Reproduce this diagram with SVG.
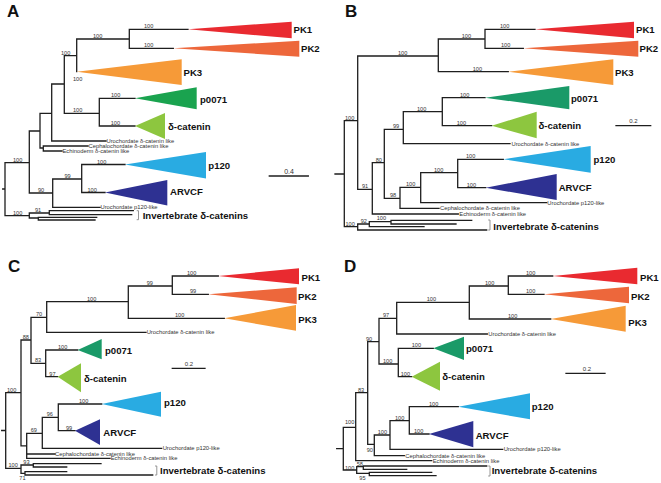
<svg xmlns="http://www.w3.org/2000/svg" width="661" height="483" viewBox="0 0 661 483">
<style>
.ln{fill:none;stroke:#1e1e1e;stroke-width:1.3;stroke-linecap:square}
.br{fill:none;stroke:#8a8a8a;stroke-width:0.9}
text{font-family:"Liberation Sans",Arial,sans-serif}
.pl{font-size:17px;font-weight:bold;fill:#111}
.cl{font-size:9.6px;font-weight:bold;fill:#111}
.nl{font-size:5.6px;fill:#333}
.tl{font-size:5.8px;fill:#333}
.sc{font-size:6px;fill:#333;text-anchor:middle}
.pk1{fill:#e92a30}.pk2{fill:#ed673b}.pk3{fill:#f69a38}
.p71a{fill:#1aa34f}.p71{fill:#1a9a68}.dc{fill:#8dc63f}.p120{fill:#29abe2}.arv{fill:#2e3192}
</style>

<!-- ================= PANEL A ================= -->
<g id="panelA">
<text class="pl" x="7" y="16.7">A</text>
<g id="A-connectors">
<path class="ln" d="M2.7 189H5M5 162.7V215.7M5 162.7H29.3M29.3 131V193M29.3 131H40M40 113.3V148M40 148H43.3M43.3 146V151M43.3 146H88M43.3 151H62M40 113.3H51.7M51.7 84V141M51.7 141H106M51.7 84H64.3M64.3 55.7V113.3M64.3 55.7H76.7M76.7 39V71.7M76.7 39H129.3M129.3 29.3V48.3M129.3 29.3H188M129.3 48.3H173.3M64.3 113.3H99.3M99.3 98.3V126M99.3 98.3H135M99.3 126H135M29.3 193H52.7M52.7 179V207.3M52.7 207.3H100M52.7 179H81.7M81.7 164.5V192.5M81.7 164.5H125M81.7 192.5H105M5 215.7H29.3M29.3 213V218M29.3 213H49.3M49.3 210.7V214.7M49.3 210.7H133.3M49.3 214.7H131.7M29.3 218H38.3M38.3 217.3V220M38.3 217.3H96.7M38.3 220H95"/>
<path class="br" d="M136.7 210.7H138.5V219.7H136.7"/>
</g>
<g id="A-support">
<text class="nl" x="13" y="161.7">100</text>
<text class="nl" x="144" y="28.3">100</text>
<text class="nl" x="144" y="47.3">100</text>
<text class="nl" x="93" y="38">100</text>
<text class="nl" x="61" y="54.7">100</text>
<text class="nl" x="73" y="81">100</text>
<text class="nl" x="73" y="112.3">100</text>
<text class="nl" x="111" y="97.3">100</text>
<text class="nl" x="110.7" y="125">100</text>
<text class="nl" x="38" y="192">90</text>
<text class="nl" x="64.5" y="178">99</text>
<text class="nl" x="97" y="163.5">100</text>
<text class="nl" x="87.5" y="191.5">100</text>
<text class="nl" x="13" y="214.7">100</text>
<text class="nl" x="35" y="212">91</text>
</g>
<g id="A-PK1"><path class="pk1" d="M188 29.3L291.7 21.7V38.3Z"/><text class="cl" x="293.5" y="32.8">PK1</text></g>
<g id="A-PK2"><path class="pk2" d="M173.3 48.3L299.3 40.7V56.7Z"/><text class="cl" x="301" y="51.8">PK2</text></g>
<g id="A-PK3"><path class="pk3" d="M76.7 71.7L181.7 59.3V85Z"/><text class="cl" x="183.5" y="76.2">PK3</text></g>
<g id="A-p0071"><path class="p71a" d="M135 98.3L196.7 87.3V109.3Z"/><text class="cl" x="200" y="102.5">p0071</text></g>
<g id="A-dcat"><path class="dc" d="M135 126L165 113V139Z"/><text class="cl" x="168" y="129.5">δ-catenin</text></g>
<g id="A-p120"><path class="p120" d="M125 164.5L206 152V178.5Z"/><text class="cl" x="208.3" y="168.5">p120</text></g>
<g id="A-ARVCF"><path class="arv" d="M105 192.5L167.3 180V205.5Z"/><text class="cl" x="170" y="194.5">ARVCF</text></g>
<g id="A-uro-dcat"><text class="tl" x="106.5" y="143">Urochordate δ-catenin like</text></g>
<g id="A-cephalo"><text class="tl" x="88.5" y="148.3">Cephalochordate δ-catenin like</text></g>
<g id="A-echino"><text class="tl" x="62.5" y="153">Echinoderm δ-catenin like</text></g>
<g id="A-uro-p120"><text class="tl" x="100.5" y="208.8">Urochordate p120-like</text></g>
<g id="A-invert"><text class="cl" x="142.7" y="218.8">Invertebrate δ-catenins</text></g>
<g id="A-scale"><path class="ln" d="M269.3 176H308.3"/><text class="sc" x="289" y="174.3" style="font-size:7px">0.4</text></g>
</g>

<!-- ================= PANEL B ================= -->
<g id="panelB">
<text class="pl" x="345" y="16.7">B</text>
<g id="B-connectors">
<path class="ln" d="M335 174H344.3M344.3 120.7V226.7M344.3 120.7H357.7M357.7 56V189.3M357.7 56H438.3M438.3 39V71.7M438.3 71.7H508.3M438.3 39H485M485 29.3V48.3M485 29.3H535M485 48.3H523.3M357.7 189.3H372.3M372.3 162.7V214M372.3 214H458.3M372.3 162.7H384.3M384.3 129.3V198.3M384.3 129.3H403.3M403.3 111.7V143.7M403.3 143.7H510M403.3 111.7H442.3M442.3 97.7V125.7M442.3 97.7H485M442.3 125.7H491.7M384.3 198.3H400M400 187.3V208.3M400 208.3H439M400 187.3H420.7M420.7 172.7V202.7M420.7 202.7H546.7M420.7 172.7H457.7M457.7 159.3V187.7M457.7 159.3H503.3M457.7 187.7H485.7M344.3 226.7H357.7M357.7 224V230M357.7 224H369.3M369.3 221.7V226.7M369.3 221.7H391M391 220.3V224M391 220.3H471.7M391 224H456M369.3 226.7H424M357.7 230H486.7"/>
<path class="br" d="M488.2 220H490V230H488.2"/>
</g>
<g id="B-support">
<text class="nl" x="500" y="28.3">100</text>
<text class="nl" x="501" y="47.3">100</text>
<text class="nl" x="461.7" y="38">100</text>
<text class="nl" x="472.7" y="70.7">100</text>
<text class="nl" x="398" y="55">100</text>
<text class="nl" x="345" y="119.7">100</text>
<text class="nl" x="460" y="96.7">100</text>
<text class="nl" x="417" y="110.7">100</text>
<text class="nl" x="456.7" y="124.7">100</text>
<text class="nl" x="393" y="128.3">99</text>
<text class="nl" x="375.7" y="161.7">80</text>
<text class="nl" x="362" y="188.3">91</text>
<text class="nl" x="390" y="197.3">98</text>
<text class="nl" x="406" y="186.3">100</text>
<text class="nl" x="434" y="171.7">100</text>
<text class="nl" x="466" y="158.3">100</text>
<text class="nl" x="466.7" y="186.7">100</text>
<text class="nl" x="345.5" y="225.7">100</text>
<text class="nl" x="360.7" y="223">92</text>
<text class="nl" x="376.7" y="220.3">100</text>
</g>
<g id="B-PK1"><path class="pk1" d="M535 29.3L634 21.7V38.3Z"/><text class="cl" x="636" y="32.8">PK1</text></g>
<g id="B-PK2"><path class="pk2" d="M523.3 48.3L638.3 40.7V56.7Z"/><text class="cl" x="639.5" y="51.8">PK2</text></g>
<g id="B-PK3"><path class="pk3" d="M508.3 71.7L613.3 59.3V85Z"/><text class="cl" x="615" y="76">PK3</text></g>
<g id="B-p0071"><path class="p71" d="M485 97.7L569.3 86V109.3Z"/><text class="cl" x="571" y="101.5">p0071</text></g>
<g id="B-dcat"><path class="dc" d="M491.7 125.7L536.7 111.7V138.3Z"/><text class="cl" x="538.5" y="129.2">δ-catenin</text></g>
<g id="B-p120"><path class="p120" d="M503.3 159.3L590.7 146V172.7Z"/><text class="cl" x="593.5" y="162.8">p120</text></g>
<g id="B-ARVCF"><path class="arv" d="M485.7 187.7L556.7 174V200Z"/><text class="cl" x="558.7" y="191.2">ARVCF</text></g>
<g id="B-uro-dcat"><text class="tl" x="511.5" y="145.8">Urochordate δ-catenin like</text></g>
<g id="B-cephalo"><text class="tl" x="440" y="210.3">Cephalochordate δ-catenin like</text></g>
<g id="B-uro-p120"><text class="tl" x="547.3" y="204.7">Urochordate p120-like</text></g>
<g id="B-echino"><text class="tl" x="459.3" y="216">Echinoderm δ-catenin like</text></g>
<g id="B-invert"><text class="cl" x="493.3" y="229.5">Invertebrate δ-catenins</text></g>
<g id="B-scale"><path class="ln" d="M616 125.7H650.7"/><text class="sc" x="633.3" y="123">0.2</text></g>
</g>

<!-- ================= PANEL C ================= -->
<g id="panelC">
<text class="pl" x="8" y="271.7">C</text>
<g id="C-connectors">
<path class="ln" d="M1.7 430.5H5.7M5.7 392.7V468.3M5.7 392.7H21M21 340V445.8M21 340H31M31 317.3V363.3M31 317.3H46.7M46.7 301.7V332.3M46.7 332.3H146M46.7 301.7H128.3M128.3 286V318.3M128.3 318.3H224.3M128.3 286H172.3M172.3 276V294.3M172.3 276H218.3M172.3 294.3H208.3M31 363.3H45.7M45.7 350V376.7M45.7 350H77.7M45.7 376.7H57.7M21 445.8H26.7M26.7 433.3V458.3M26.7 454H55M26.7 458.3H110M26.7 433.3H42.3M42.3 417.3V448.3M42.3 448.3H161.7M42.3 417.3H58.3M58.3 404V430.7M58.3 404H101.7M58.3 430.7H75M5.7 468.3H21M21 465V473.3M21 465H33.3M33.3 463.7V467M33.3 463.7H101M33.3 467H66.7M21 473.3H25M25 471.7V475M25 471.7H66.7M25 475H152.7"/>
<path class="br" d="M155 466H156.8V475H155"/>
</g>
<g id="C-support">
<text class="nl" x="187" y="275">100</text>
<text class="nl" x="190" y="293.3">99</text>
<text class="nl" x="146.7" y="285">99</text>
<text class="nl" x="175" y="317.3">100</text>
<text class="nl" x="87" y="300.7">100</text>
<text class="nl" x="36" y="316.3">70</text>
<text class="nl" x="22.7" y="339">88</text>
<text class="nl" x="35" y="362.3">83</text>
<text class="nl" x="58" y="349">100</text>
<text class="nl" x="49.3" y="375.7">97</text>
<text class="nl" x="7" y="391.7">100</text>
<text class="nl" x="46.7" y="416.3">96</text>
<text class="nl" x="79" y="403">100</text>
<text class="nl" x="66" y="429.7">99</text>
<text class="nl" x="30.7" y="432.3">69</text>
<text class="nl" x="8.5" y="467.3">100</text>
<text class="nl" x="23.3" y="464">93</text>
<text class="nl" x="19.3" y="479.5">71</text>
</g>
<g id="C-PK1"><path class="pk1" d="M218.3 276L299 268.3V284.3Z"/><text class="cl" x="301.5" y="281.2">PK1</text></g>
<g id="C-PK2"><path class="pk2" d="M208.3 294.3L296.7 287.3V304Z"/><text class="cl" x="298" y="299.5">PK2</text></g>
<g id="C-PK3"><path class="pk3" d="M224.3 318.3L296 305V330.7Z"/><text class="cl" x="298.3" y="322.5">PK3</text></g>
<g id="C-p0071"><path class="p71" d="M77.7 350L101.7 339V359.3Z"/><text class="cl" x="105" y="353.5">p0071</text></g>
<g id="C-dcat"><path class="dc" d="M57.7 376.7L81 363.3V392.3Z"/><text class="cl" x="84" y="381.8">δ-catenin</text></g>
<g id="C-p120"><path class="p120" d="M101.7 404L161 391.7V416.7Z"/><text class="cl" x="164" y="405.8">p120</text></g>
<g id="C-ARVCF"><path class="arv" d="M75 430.7L100 419.3V445Z"/><text class="cl" x="103.3" y="436.2">ARVCF</text></g>
<g id="C-uro-dcat"><text class="tl" x="146.7" y="334.4">Urochordate δ-catenin like</text></g>
<g id="C-uro-p120"><text class="tl" x="162.7" y="450.4">Urochordate p120-like</text></g>
<g id="C-cephalo"><text class="tl" x="55" y="456">Cephalochordate δ-catenin like</text></g>
<g id="C-echino"><text class="tl" x="110.7" y="460.4">Echinoderm δ-catenin like</text></g>
<g id="C-invert"><text class="cl" x="160" y="473.5">Invertebrate δ-catenins</text></g>
<g id="C-scale"><path class="ln" d="M172.3 368.3H205"/><text class="sc" x="189" y="366">0.2</text></g>
</g>

<!-- ================= PANEL D ================= -->
<g id="panelD">
<text class="pl" x="344" y="271.7">D</text>
<g id="D-connectors">
<path class="ln" d="M336.7 448.7H343.3M343.3 427.3V470M343.3 427.3H355.7M355.7 392.7V460.7M355.7 460.7H431.7M355.7 392.7H367.7M367.7 341.7V444.3M367.7 341.7H379M379 318.3V364M379 318.3H396.7M396.7 302.3V334M396.7 334H487.3M396.7 302.3H469.3M469.3 286V319M469.3 319H550.7M469.3 286H508.3M508.3 276V294.3M508.3 276H552.7M508.3 294.3H544M379 364H398.3M398.3 348.3V376.7M398.3 348.3H433.3M398.3 376.7H411.7M367.7 444.3H374.3M374.3 435V455.7M374.3 455.7H404.3M374.3 435H390M390 420.7V449.3M390 449.3H502.7M390 420.7H409.3M409.3 406.7V434M409.3 406.7H458.3M409.3 434H429M343.3 470H356.7M356.7 466.7V473.3M356.7 466.7H363.3M363.3 466V469.3M363.3 466H486.7M363.3 469.3H406.7M356.7 473.3H369.3M369.3 472.3V475.7M369.3 472.3H431.7M369.3 475.7H436"/>
<path class="br" d="M488.2 466H490V476H488.2"/>
</g>
<g id="D-support">
<text class="nl" x="526" y="275">100</text>
<text class="nl" x="526" y="293.3">100</text>
<text class="nl" x="485" y="285">100</text>
<text class="nl" x="508" y="318">100</text>
<text class="nl" x="426.7" y="301.3">100</text>
<text class="nl" x="383" y="317.3">97</text>
<text class="nl" x="366" y="340.7">90</text>
<text class="nl" x="383" y="363">100</text>
<text class="nl" x="411.7" y="347.3">100</text>
<text class="nl" x="400.7" y="375.7">100</text>
<text class="nl" x="358" y="391.7">83</text>
<text class="nl" x="345" y="423.7">100</text>
<text class="nl" x="377.7" y="434">100</text>
<text class="nl" x="395" y="419.7">100</text>
<text class="nl" x="429" y="405.7">100</text>
<text class="nl" x="414" y="433">100</text>
<text class="nl" x="366.7" y="451.5">90</text>
<text class="nl" x="345" y="470.3">100</text>
<text class="nl" x="356.7" y="466">58</text>
<text class="nl" x="359.3" y="480.3">95</text>
</g>
<g id="D-PK1"><path class="pk1" d="M552.7 276L637.3 267.7V284.3Z"/><text class="cl" x="640" y="281.2">PK1</text></g>
<g id="D-PK2"><path class="pk2" d="M544 294.3L629 286.7V303.3Z"/><text class="cl" x="631" y="299.5">PK2</text></g>
<g id="D-PK3"><path class="pk3" d="M550.7 319L625.7 305.7V331.7Z"/><text class="cl" x="628.3" y="325.8">PK3</text></g>
<g id="D-p0071"><path class="p71" d="M433.3 348.3L464 336.7V360Z"/><text class="cl" x="466" y="351.8">p0071</text></g>
<g id="D-dcat"><path class="dc" d="M411.7 376.7L440 361.7V390.7Z"/><text class="cl" x="442.3" y="380.2">δ-catenin</text></g>
<g id="D-p120"><path class="p120" d="M458.3 406.7L530 393.3V419.3Z"/><text class="cl" x="531.7" y="409.5">p120</text></g>
<g id="D-ARVCF"><path class="arv" d="M429 434L473.3 421V447.3Z"/><text class="cl" x="475.7" y="439.2">ARVCF</text></g>
<g id="D-uro-dcat"><text class="tl" x="488.3" y="336">Urochordate δ-catenin like</text></g>
<g id="D-uro-p120"><text class="tl" x="503.7" y="451.4">Urochordate p120-like</text></g>
<g id="D-cephalo"><text class="tl" x="405.3" y="457.8">Cephalochordate δ-catenin like</text></g>
<g id="D-echino"><text class="tl" x="432.7" y="462.8">Echinoderm δ-catenin like</text></g>
<g id="D-invert"><text class="cl" x="491.7" y="473.5">Invertebrate δ-catenins</text></g>
<g id="D-scale"><path class="ln" d="M566 373.3H605"/><text class="sc" x="587" y="371">0.2</text></g>
</g>
</svg>
